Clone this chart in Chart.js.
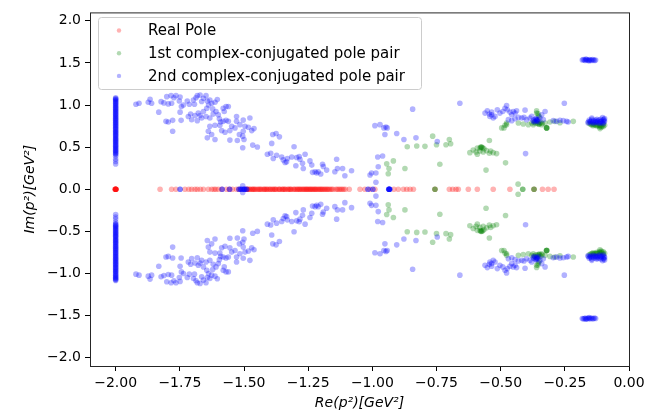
<!DOCTYPE html>
<html>
<head>
<meta charset="utf-8">
<script src="https://cdn.jsdelivr.net/npm/chart.js@4.4.0/dist/chart.umd.min.js"></script>
<style>
  html, body { margin: 0; padding: 0; background: #fff; }
  #wrap { width: 672px; height: 414px; }
</style>
</head>
<body>
<div id="wrap"><canvas id="poles" width="672" height="414"></canvas></div>
<script>
// tick values
const xTicks = [-2.0, -1.75, -1.5, -1.25, -1.0, -0.75, -0.5, -0.25, 0.0];
const yTicks = [-2.0, -1.5, -1.0, -0.5, 0.0, 0.5, 1.0, 1.5, 2.0];

const legendLabels = ['Real Pole', '1st complex-conjugated pole pair', '2nd complex-conjugated pole pair'];

// real poles: only Re(p^2), Im = 0
const realPoles = [
  -2.003, -2.0, -2.0, -2.0, -1.998, -2.001, -2.0, -1.999,
  -1.827, -1.782, -1.765, -1.73, -1.704, -1.691, -1.682, -1.658, -1.639, -1.626, -1.617, -1.60,
  -1.587, -1.568, -1.557, -1.529, -1.518, -1.49, -1.484, -1.476, -1.47, -1.463, -1.455, -1.449,
  -1.44, -1.432, -1.425, -1.418, -1.41, -1.404, -1.396, -1.39, -1.381, -1.374, -1.366, -1.36,
  -1.352, -1.345, -1.338, -1.33, -1.322, -1.316, -1.308, -1.3, -1.294, -1.286, -1.279, -1.27,
  -1.262, -1.255, -1.247, -1.24, -1.232, -1.224, -1.217, -1.208, -1.2, -1.192, -1.183, -1.174,
  -1.164, -1.153, -1.142, -1.13, -1.118, -1.105, -1.09, -1.048, -1.029, -1.009, -0.99,
  -0.916, -0.899, -0.879, -0.866, -0.853, -0.84, -0.756, -0.70, -0.687, -0.674, -0.665,
  -0.626, -0.591, -0.529, -0.464, -0.37, -0.337, -0.315, -0.292,
  -1.487, -1.479, -1.466, -1.459, -1.444, -1.436, -1.421, -1.413, -1.399, -1.386, -1.378,
  -1.362, -1.349, -1.341, -1.327, -1.319, -1.304, -1.291, -1.283, -1.274, -1.266, -1.258,
  -1.251, -1.243, -1.236, -1.228, -1.221, -1.212, -1.204, -1.196, -1.187, -1.178, -1.169,
  -1.158, -1.136, -1.124, -1.112, -1.545, -1.61, -1.67, -1.715
];

// 1st pair: [Re, Im>=0], conjugate is added below
const firstPair = [
  [-0.864, 0.505], [-0.944, 0.301], [-0.918, 0.336], [-0.935, 0.246], [-0.938, 0.184], [-0.873, 0.246],
  [-0.765, 0.630], [-0.700, 0.591], [-0.695, 0.540], [-0.713, 0.528], [-0.750, 0.528], [-0.795, 0.509],
  [-0.827, 0.513], [-0.737, 0.297], [-0.557, 0.227], [-0.481, 0.313], [-0.544, 0.579],
  [-0.620, 0.434], [-0.607, 0.466], [-0.591, 0.489], [-0.574, 0.501], [-0.565, 0.481], [-0.555, 0.458],
  [-0.544, 0.427], [-0.529, 0.434], [-0.516, 0.423], [-0.596, 0.442], [-0.581, 0.454], [-0.591, 0.415],
  [-0.539, 0.454], [-0.568, 0.442], [-0.578, 0.501], [-0.570, 0.493], [-0.575, 0.497], [-0.580, 0.490],
  [-0.487, 0.728], [-0.477, 0.767], [-0.496, 0.728], [-0.483, 0.759], [-0.477, 0.786], [-0.431, 0.786],
  [-0.412, 0.775], [-0.392, 0.767], [-0.379, 0.786], [-0.373, 0.767], [-0.360, 0.904], [-0.353, 0.876],
  [-0.366, 0.806], [-0.353, 0.775], [-0.340, 0.767], [-0.327, 0.786], [-0.308, 0.798], [-0.289, 0.806],
  [-0.269, 0.790], [-0.217, 0.806], [-0.360, 0.930], [-0.355, 0.900], [-0.350, 0.860], [-0.362, 0.780],
  [-0.356, 0.790], [-0.348, 0.780], [-0.344, 0.795], [-0.370, 0.790], [-0.338, 0.780], [-0.350, 0.770],
  [-0.321, 0.728], [-0.321, 0.728], [-0.322, 0.729], [-0.320, 0.727],
  [-0.155, 0.780], [-0.150, 0.770], [-0.145, 0.765], [-0.140, 0.770], [-0.135, 0.765], [-0.130, 0.760],
  [-0.125, 0.765], [-0.120, 0.760], [-0.115, 0.758], [-0.110, 0.755], [-0.105, 0.750], [-0.100, 0.745],
  [-0.108, 0.735], [-0.115, 0.740], [-0.125, 0.750], [-0.140, 0.755], [-0.100, 0.770], [-0.095, 0.760],
  [-0.113, 0.720],
  [-0.756, 0.0], [-0.432, 0.060], [-0.414, 0.0], [-0.370, 0.0]
];

// 2nd pair: Im values of the strip at Re = -2.0
const edgeIm = [
  1.085, 1.077, 1.068, 1.061, 1.05, 1.043, 1.031, 1.022, 1.012, 1.001, 0.99, 0.979, 0.971, 0.96,
  0.951, 0.94, 0.929, 0.921, 0.91, 0.899, 0.891, 0.88, 0.868, 0.861, 0.85, 0.839, 0.831, 0.82,
  0.81, 0.799, 0.791, 0.78, 0.77, 0.759, 0.751, 0.74, 0.729, 0.72, 0.71, 0.701, 0.689, 0.68,
  0.671, 0.66, 0.65, 0.639, 0.631, 0.62, 0.609, 0.6, 0.591, 0.58, 0.569, 0.56, 0.551, 0.54,
  0.529, 0.52, 0.511, 0.5, 0.489, 0.48, 0.47, 0.459, 0.45, 0.441, 0.43, 0.421, 0.412, 0.39,
  0.355, 0.33, 0.3
];

// 2nd pair: [Re, Im>=0]
const secondPair = [
  [-1.921, 1.009], [-1.909, 1.021], [-1.873, 1.033], [-1.860, 1.021], [-1.866, 1.068], [-1.823, 1.040],
  [-1.812, 1.025], [-1.795, 1.013], [-1.782, 1.021], [-1.801, 1.099], [-1.784, 1.111], [-1.773, 1.087],
  [-1.765, 1.111], [-1.749, 1.095], [-1.752, 1.048], [-1.736, 1.001], [-1.744, 0.982], [-1.721, 1.048],
  [-1.713, 1.009], [-1.697, 1.060], [-1.693, 1.009], [-1.687, 1.087], [-1.682, 1.111], [-1.671, 1.119],
  [-1.665, 1.041], [-1.658, 1.080], [-1.648, 1.111], [-1.643, 1.048], [-1.638, 1.001], [-1.633, 1.060],
  [-1.626, 1.021], [-1.613, 1.033], [-1.604, 1.064], [-1.622, 0.954], [-1.645, 0.962], [-1.658, 0.923],
  [-1.678, 0.904], [-1.671, 0.876], [-1.691, 0.876], [-1.708, 0.892], [-1.717, 0.864], [-1.704, 0.825],
  [-1.682, 0.814], [-1.665, 0.845], [-1.648, 0.864], [-1.633, 0.845], [-1.620, 0.892], [-1.609, 0.923],
  [-1.600, 0.884], [-1.596, 0.837], [-1.581, 0.962], [-1.570, 0.982], [-1.561, 0.982], [-1.577, 0.923],
  [-1.591, 0.798], [-1.581, 0.806], [-1.570, 0.818], [-1.561, 0.806], [-1.594, 0.759], [-1.613, 0.759],
  [-1.633, 0.747], [-1.639, 0.688], [-1.643, 0.610], [-1.626, 0.649], [-1.613, 0.591], [-1.587, 0.696],
  [-1.574, 0.677], [-1.555, 0.696], [-1.548, 0.747], [-1.535, 0.728], [-1.529, 0.864], [-1.529, 0.806],
  [-1.516, 0.767], [-1.503, 0.821], [-1.496, 0.747], [-1.503, 0.688], [-1.483, 0.735], [-1.477, 0.845],
  [-1.470, 0.696], [-1.461, 0.720], [-1.505, 0.630], [-1.518, 0.649], [-1.526, 0.579], [-1.555, 0.583],
  [-1.500, 0.591], [-1.505, 0.493], [-1.466, 0.524], [-1.448, 0.501], [-1.409, 0.415], [-1.749, 0.915],
  [-1.745, 0.818], [-1.778, 0.818], [-1.795, 0.798], [-1.804, 0.806], [-1.778, 0.688], [-1.832, 0.915],
  [-1.388, 0.649], [-1.375, 0.661], [-1.362, 0.622], [-1.392, 0.544], [-1.396, 0.426], [-1.386, 0.364],
  [-1.373, 0.403], [-1.353, 0.383], [-1.347, 0.348], [-1.340, 0.317], [-1.334, 0.325], [-1.331, 0.364],
  [-1.314, 0.383], [-1.305, 0.505], [-1.298, 0.278], [-1.295, 0.376], [-1.285, 0.387], [-1.282, 0.356],
  [-1.272, 0.309], [-1.269, 0.246], [-1.262, 0.415], [-1.243, 0.336], [-1.236, 0.286], [-1.233, 0.200],
  [-1.223, 0.207], [-1.217, 0.192], [-1.211, 0.207], [-1.201, 0.180], [-1.194, 0.297], [-1.191, 0.270],
  [-1.178, 0.227], [-1.146, 0.207], [-1.139, 0.356], [-1.136, 0.246], [-1.116, 0.246], [-1.107, 0.160],
  [-1.081, 0.219], [-1.009, 0.168], [-1.003, 0.192], [-0.986, 0.192], [-0.977, 0.266], [-0.979, 0.383],
  [-0.960, 0.395], [-0.990, 0.755], [-0.970, 0.767], [-0.955, 0.728], [-0.947, 0.739], [-0.942, 0.728],
  [-0.951, 0.649], [-0.905, 0.661], [-0.877, 0.591], [-0.986, 0.082],
  [-0.843, 0.951], [-0.659, 1.021], [-0.830, 0.610], [-0.747, 0.567], [-0.403, 0.423], [-0.252, 1.021],
  [-0.561, 0.904], [-0.552, 0.931], [-0.542, 0.865], [-0.535, 0.884], [-0.522, 0.865], [-0.529, 0.845],
  [-0.513, 0.943], [-0.503, 0.904], [-0.492, 0.923], [-0.483, 0.962], [-0.477, 0.994], [-0.474, 0.943],
  [-0.464, 0.916], [-0.457, 0.884], [-0.451, 0.923], [-0.444, 0.904], [-0.438, 0.931], [-0.470, 0.826],
  [-0.457, 0.814], [-0.444, 0.837], [-0.431, 0.853], [-0.418, 0.845], [-0.409, 0.853], [-0.399, 0.826],
  [-0.405, 0.939], [-0.386, 0.845], [-0.379, 0.865], [-0.373, 0.806], [-0.360, 0.826], [-0.347, 0.845],
  [-0.340, 0.884], [-0.334, 0.826], [-0.327, 0.923], [-0.295, 0.814], [-0.282, 0.806], [-0.269, 0.818],
  [-0.256, 0.814], [-0.243, 0.806], [-0.237, 0.798], [-0.535, 0.915], [-0.544, 0.892],
  [-0.372, 0.820], [-0.365, 0.830], [-0.358, 0.810], [-0.352, 0.800], [-0.362, 0.840], [-0.355, 0.825],
  [-0.368, 0.800], [-0.360, 0.815],
  [-0.158, 0.800], [-0.155, 0.820], [-0.150, 0.790], [-0.148, 0.810], [-0.145, 0.830], [-0.140, 0.800],
  [-0.137, 0.815], [-0.133, 0.790], [-0.130, 0.820], [-0.127, 0.800], [-0.123, 0.810], [-0.120, 0.790],
  [-0.117, 0.820], [-0.113, 0.800], [-0.110, 0.830], [-0.107, 0.810], [-0.104, 0.790], [-0.100, 0.820],
  [-0.097, 0.800], [-0.095, 0.840], [-0.098, 0.830], [-0.103, 0.850], [-0.110, 0.800], [-0.125, 0.830],
  [-0.140, 0.785], [-0.152, 0.805], [-0.145, 0.845], [-0.130, 0.800], [-0.115, 0.780], [-0.100, 0.780],
  [-0.095, 0.810], [-0.160, 0.790],
  [-0.182, 1.535], [-0.178, 1.540], [-0.174, 1.535], [-0.170, 1.530], [-0.166, 1.540], [-0.162, 1.535],
  [-0.158, 1.530], [-0.154, 1.540], [-0.150, 1.535], [-0.146, 1.530], [-0.142, 1.540], [-0.138, 1.535],
  [-0.134, 1.530], [-0.130, 1.535], [-0.168, 1.545], [-0.155, 1.525],
  [-1.749, 0.0], [-1.585, 0.0], [-1.556, 0.0], [-1.520, 0.0], [-1.513, 0.0], [-1.507, 0.0],
  [-1.500, 0.0], [-1.497, 0.0], [-1.490, 0.0], [-1.505, 0.040], [-1.017, 0.0], [-0.998, 0.0],
  [-0.936, 0.0], [-0.934, 0.0], [-0.932, 0.0], [-0.935, 0.0]
];

const colors = ['rgba(255,0,0,0.3)', 'rgba(0,128,0,0.3)', 'rgba(0,0,255,0.3)'];
const FONT = "'DejaVu Sans', sans-serif";

// each pole comes with its complex conjugate
function withConjugates(list) {
  const out = [];
  list.forEach(p => {
    out.push({ x: p[0], y: p[1] });
    out.push({ x: p[0], y: -p[1] });
  });
  return out;
}

const blueAll = secondPair.concat(edgeIm.map(v => [-2.0, v]));

function fmt(v, d) {
  return v.toFixed(d).replace('-', '\u2212');
}

const framePlugin = {
  id: 'frame',
  afterDraw(chart) {
    const { ctx, chartArea: a } = chart;
    ctx.save();
    ctx.strokeStyle = '#262626';
    ctx.lineWidth = 1;
    ctx.strokeRect(a.left + 0.5, a.top + 0.5, a.right - a.left, a.bottom - a.top);

    // legend box
    const bx = 98.5, by = 17.5, bw = 323, bh = 72;
    ctx.beginPath();
    ctx.roundRect(bx, by, bw, bh, 3);
    ctx.fillStyle = 'rgba(255,255,255,0.8)';
    ctx.fill();
    ctx.strokeStyle = '#cccccc';
    ctx.stroke();

    ctx.font = '15px ' + FONT;
    ctx.textBaseline = 'middle';
    legendLabels.forEach((lab, i) => {
      const y = 30.5 + i * 22.7;
      ctx.fillStyle = colors[i];
      ctx.beginPath();
      ctx.arc(119, y, 2.2, 0, Math.PI * 2);
      ctx.fill();
      ctx.fillStyle = '#000';
      ctx.fillText(lab, 148, y + 1);
    });
    ctx.restore();
  }
};

new Chart(document.getElementById('poles'), {
  type: 'scatter',
  data: {
    datasets: [
      {
        label: legendLabels[0],
        data: realPoles.map(x => ({ x: x, y: 0 })),
        backgroundColor: colors[0],
        pointRadius: 2.8,
        borderWidth: 0,
        order: 2
      },
      {
        label: legendLabels[1],
        data: withConjugates(firstPair),
        backgroundColor: colors[1],
        pointRadius: 2.8,
        borderWidth: 0,
        order: 1
      },
      {
        label: legendLabels[2],
        data: withConjugates(blueAll),
        backgroundColor: colors[2],
        pointRadius: 2.8,
        borderWidth: 0,
        order: 0
      }
    ]
  },
  options: {
    responsive: false,
    animation: false,
    devicePixelRatio: 1,
    layout: { padding: { left: 18, right: 43, top: 8, bottom: 0 } },
    plugins: {
      legend: { display: false },
      tooltip: { enabled: false }
    },
    scales: {
      x: {
        type: 'linear',
        min: -2.1,
        max: 0,
        afterBuildTicks: s => { s.ticks = xTicks.map(v => ({ value: v })); },
        afterFit: s => { s.height = 48; },
        ticks: {
          color: '#000',
          padding: 4,
          font: { family: FONT, size: 14 },
          callback: v => fmt(v, 2),
          maxRotation: 0
        },
        grid: { drawOnChartArea: false, tickLength: 5, color: '#000' },
        border: { display: false },
        title: {
          display: true,
          text: 'Re(p²)[GeV²]',
          color: '#000',
          padding: { top: 0, bottom: 2 },
          font: { family: FONT, size: 14, style: 'italic' }
        }
      },
      y: {
        type: 'linear',
        min: -2.1,
        max: 2.1,
        afterBuildTicks: s => { s.ticks = yTicks.map(v => ({ value: v })); },
        afterFit: s => { s.width = 72; },
        ticks: {
          color: '#000',
          padding: 4,
          font: { family: FONT, size: 14 },
          callback: v => fmt(v, 1)
        },
        grid: { drawOnChartArea: false, tickLength: 5, color: '#000' },
        border: { display: false },
        title: {
          display: true,
          text: 'Im(p²)[GeV²]',
          color: '#000',
          padding: { top: 4, bottom: 0 },
          font: { family: FONT, size: 14, style: 'italic' }
        }
      }
    }
  },
  plugins: [framePlugin]
});
</script>
</body>
</html>
